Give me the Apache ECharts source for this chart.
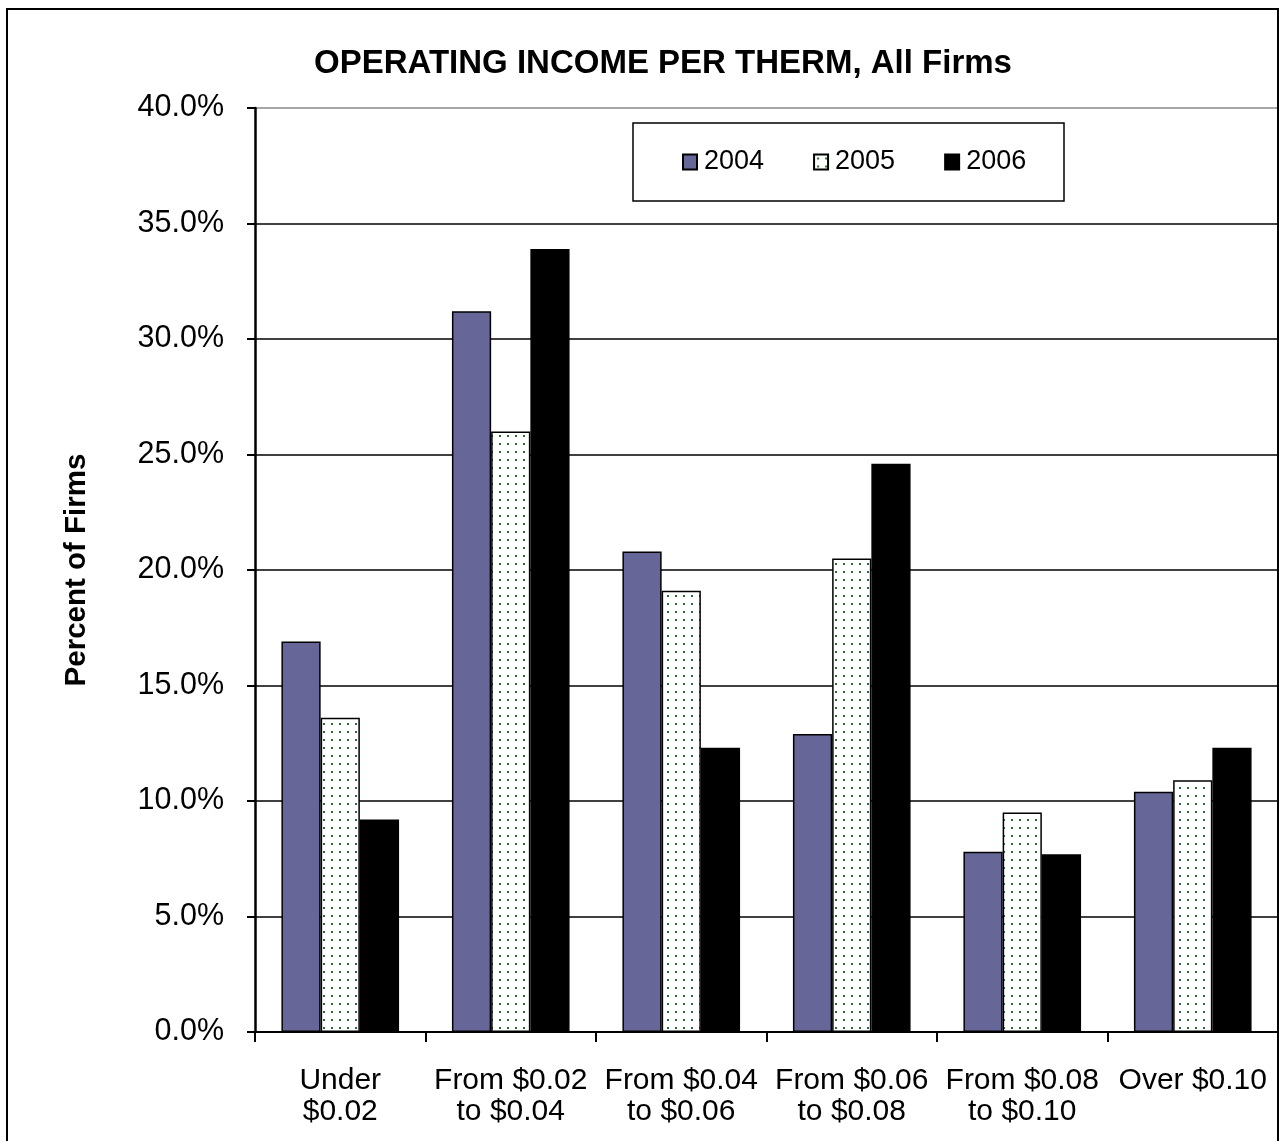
<!DOCTYPE html>
<html>
<head>
<meta charset="utf-8">
<script src="https://cdn.jsdelivr.net/npm/echarts@6/dist/echarts.min.js"></script>
<style>
html,body{margin:0;padding:0;background:#fff;}
#chart{width:1279px;height:1141px;}
</style>
</head>
<body>
<div id="chart"></div>
<script>
var categories = ['Under\n$0.02', 'From $0.02\nto $0.04', 'From $0.04\nto $0.06', 'From $0.06\nto $0.08', 'From $0.08\nto $0.10', 'Over $0.10'];
var seriesNames = ['2004', '2005', '2006'];
var values2004 = [16.9, 31.2, 20.8, 12.9, 7.8, 10.4];
var values2005 = [13.6, 26.0, 19.1, 20.5, 9.5, 10.9];
var values2006 = [9.2, 33.9, 12.3, 24.6, 7.7, 12.3];
var yTicks = [0, 5, 10, 15, 20, 25, 30, 35, 40];

function makeDots() {
  var c = document.createElement('canvas');
  c.width = 8; c.height = 8;
  var ctx = c.getContext('2d');
  ctx.fillStyle = '#ffffff';
  ctx.fillRect(0, 0, 8, 8);
  ctx.fillStyle = '#2f6a3b';
  ctx.fillRect(3, 3, 2, 2);
  return c;
}
var dots = makeDots();

var chart = echarts.init(document.getElementById('chart'), null, {renderer: 'canvas'});
var font = '"Liberation Sans", Arial, sans-serif';
var gridColors = yTicks.map(function (t, i) { return i === yTicks.length - 1 ? '#8a8a8a' : '#000000'; });

chart.setOption({
  animation: false,
  backgroundColor: '#ffffff',
  textStyle: {fontFamily: font, color: '#000'},
  title: {
    text: 'OPERATING INCOME PER THERM, All Firms',
    left: 658, top: 42, textAlign: 'center',
    textStyle: {fontFamily: font, fontSize: 33, fontWeight: 'bold', color: '#000'}
  },
  graphic: [
    {type: 'rect', shape: {x: 7, y: 9, width: 1271, height: 1200}, style: {fill: 'none', stroke: '#000', lineWidth: 2}, z: 100, silent: true},
    {type: 'rect', shape: {x: 633, y: 123, width: 431, height: 78}, style: {fill: '#fff', stroke: '#000', lineWidth: 1.5}, z: 5, silent: true}
  ],
  legend: {
    data: seriesNames,
    left: 682, top: 148, padding: 0,
    itemWidth: 14, itemHeight: 15, itemGap: 49,
    icon: 'rect',
    z: 10,
    textStyle: {fontFamily: font, fontSize: 27, color: '#000', lineHeight: 28, padding: [0, 0, 0, 2]}
  },
  grid: {left: 255, right: 1, top: 108, bottom: 109, containLabel: false},
  xAxis: {
    type: 'category',
    data: categories,
    axisLine: {lineStyle: {color: '#000', width: 2}},
    axisTick: {show: true, length: 10, lineStyle: {color: '#000', width: 2}, alignWithLabel: false},
    axisLabel: {fontFamily: font, fontSize: 30, color: '#000', lineHeight: 31, margin: 33, interval: 0}
  },
  yAxis: {
    type: 'value',
    min: 0, max: 40, interval: 5,
    name: 'Percent of Firms',
    nameLocation: 'middle',
    nameGap: 163,
    nameTextStyle: {fontFamily: font, fontSize: 29.5, fontWeight: 'bold', color: '#000'},
    axisLine: {show: true, lineStyle: {color: '#000', width: 2.5}},
    axisTick: {show: true, length: 8, lineStyle: {color: '#000', width: 2}},
    axisLabel: {fontFamily: font, fontSize: 30.5, color: '#000', margin: 31, formatter: function (v) { return v.toFixed(1) + '%'; }},
    splitLine: {show: true, lineStyle: {color: gridColors, width: 1.5}}
  },
  series: [
    {name: '2004', type: 'bar', data: values2004, barGap: '0%', barCategoryGap: '31%',
     itemStyle: {color: '#666699', borderColor: '#000', borderWidth: 1.5}},
    {name: '2005', type: 'bar', data: values2005, barGap: '0%', barCategoryGap: '31%',
     itemStyle: {color: {image: dots, repeat: 'repeat'}, borderColor: '#000', borderWidth: 1.5}},
    {name: '2006', type: 'bar', data: values2006, barGap: '0%', barCategoryGap: '31%',
     itemStyle: {color: '#000000', borderColor: '#000', borderWidth: 1.5}}
  ]
});
</script>
</body>
</html>
